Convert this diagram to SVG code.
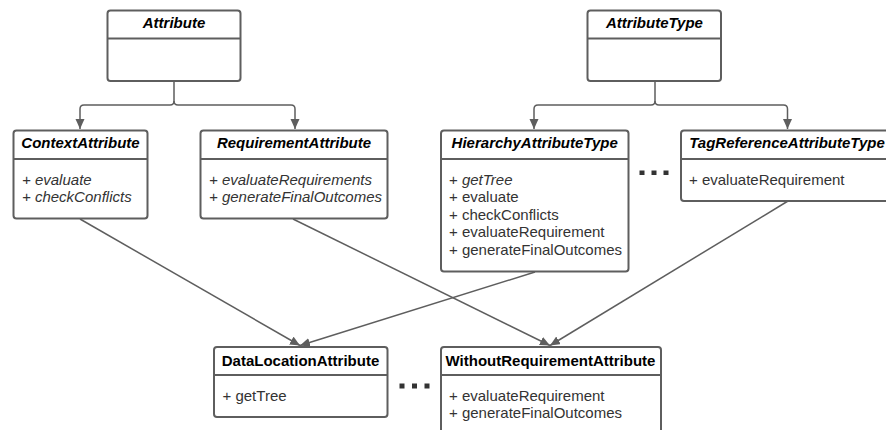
<svg xmlns="http://www.w3.org/2000/svg" width="886" height="430" viewBox="0 0 886 430">
<style>
.box{fill:#fff;stroke:#5e5e5e;stroke-width:2}
.div{stroke:#5e5e5e;stroke-width:2}
.t{font-family:"Liberation Sans",Arial,sans-serif;font-size:15px;font-weight:bold;fill:#000;text-anchor:middle}
.ti{font-style:italic}
.b{font-family:"Liberation Sans",Arial,sans-serif;font-size:15px;fill:#333}
.bi{font-style:italic}
.c{fill:none;stroke:#5e5e5e;stroke-width:1.5}
.dot{fill:#333}
</style>
<defs>
<marker id="arr" markerUnits="userSpaceOnUse" markerWidth="11" markerHeight="10" refX="10" refY="4.5" orient="auto">
<path d="M0,0 L10,4.5 L0,9 z" fill="#5e5e5e"/>
</marker>
</defs>
<g id="connectors">
<path class="c" d="M174,81 V101 Q174,105 170,105 H84 Q80,105 80,109 V129" marker-end="url(#arr)"/>
<path class="c" d="M174,101 Q174,105 178,105 H291 Q295,105 295,109 V129" marker-end="url(#arr)"/>
<path class="c" d="M655,81 V101 Q655,105 651,105 H538 Q534,105 534,109 V129" marker-end="url(#arr)"/>
<path class="c" d="M655,101 Q655,105 659,105 H783.5 Q787.5,105 787.5,109 V129" marker-end="url(#arr)"/>
<path class="c" d="M80,219 L300,345.5" marker-end="url(#arr)"/>
<path class="c" d="M535,272 L300,345.5" marker-end="url(#arr)"/>
<path class="c" d="M293,219 L550,345.5" marker-end="url(#arr)"/>
<path class="c" d="M788,201 L550,345.5" marker-end="url(#arr)"/>
</g>
<g id="Attribute">
<rect class="box" x="107.5" y="10.5" width="133" height="70.5" rx="3"/>
<line class="div" x1="107.5" y1="38.5" x2="240.5" y2="38.5"/>
<text class="t ti" x="174" y="28">Attribute</text>
</g>
<g id="AttributeType">
<rect class="box" x="587.5" y="10.5" width="133.5" height="70.5" rx="3"/>
<line class="div" x1="587.5" y1="38.5" x2="721" y2="38.5"/>
<text class="t ti" x="654.5" y="28">AttributeType</text>
</g>
<g id="ContextAttribute">
<rect class="box" x="13.5" y="130.5" width="134" height="88" rx="3"/>
<line class="div" x1="13.5" y1="159" x2="147.5" y2="159"/>
<text class="t ti" x="80.5" y="148">ContextAttribute</text>
<text class="b bi" x="22" y="184.5">+ evaluate</text>
<text class="b bi" x="22" y="202.3">+ checkConflicts</text>
</g>
<g id="RequirementAttribute">
<rect class="box" x="200.5" y="130.5" width="187" height="88" rx="3"/>
<line class="div" x1="200.5" y1="159" x2="387.5" y2="159"/>
<text class="t ti" x="294" y="148">RequirementAttribute</text>
<text class="b bi" x="209" y="184.5">+ evaluateRequirements</text>
<text class="b bi" x="209" y="202.3">+ generateFinalOutcomes</text>
</g>
<g id="HierarchyAttributeType">
<rect class="box" x="441" y="130.5" width="187.5" height="141" rx="3"/>
<line class="div" x1="441" y1="159" x2="628.5" y2="159"/>
<text class="t ti" x="534.7" y="148">HierarchyAttributeType</text>
<text class="b" x="449" y="184.5">+ <tspan class="bi">getTree</tspan></text>
<text class="b" x="449" y="202.1">+ evaluate</text>
<text class="b" x="449" y="219.7">+ checkConflicts</text>
<text class="b" x="449" y="237.3">+ evaluateRequirement</text>
<text class="b" x="449" y="254.9">+ generateFinalOutcomes</text>
</g>
<g id="TagReferenceAttributeType">
<rect class="box" x="681" y="130.5" width="212" height="70.5" rx="3"/>
<line class="div" x1="681" y1="159" x2="893" y2="159"/>
<text class="t ti" x="787" y="148">TagReferenceAttributeType</text>
<text class="b" x="689" y="184.5">+ evaluateRequirement</text>
</g>
<g id="dots-top">
<rect class="dot" x="639.5" y="170.5" width="5" height="4.5"/>
<rect class="dot" x="651.5" y="170.5" width="5" height="4.5"/>
<rect class="dot" x="663.5" y="170.5" width="5" height="4.5"/>
</g>
<g id="DataLocationAttribute">
<rect class="box" x="214" y="347" width="173.5" height="70" rx="3"/>
<line class="div" x1="214" y1="375" x2="387.5" y2="375"/>
<text class="t" x="300.5" y="365.5">DataLocationAttribute</text>
<text class="b" x="222.5" y="400.5">+ getTree</text>
</g>
<g id="WithoutRequirementAttribute">
<rect class="box" x="441" y="347" width="220" height="100" rx="3"/>
<line class="div" x1="441" y1="375" x2="661" y2="375"/>
<text class="t" x="550.5" y="365.5">WithoutRequirementAttribute</text>
<text class="b" x="449" y="400.5">+ evaluateRequirement</text>
<text class="b" x="449" y="418.2">+ generateFinalOutcomes</text>
</g>
<g id="dots-bottom">
<rect class="dot" x="399.5" y="383.5" width="5" height="5"/>
<rect class="dot" x="412" y="383.5" width="5" height="5"/>
<rect class="dot" x="424.5" y="383.5" width="5" height="5"/>
</g>
</svg>
